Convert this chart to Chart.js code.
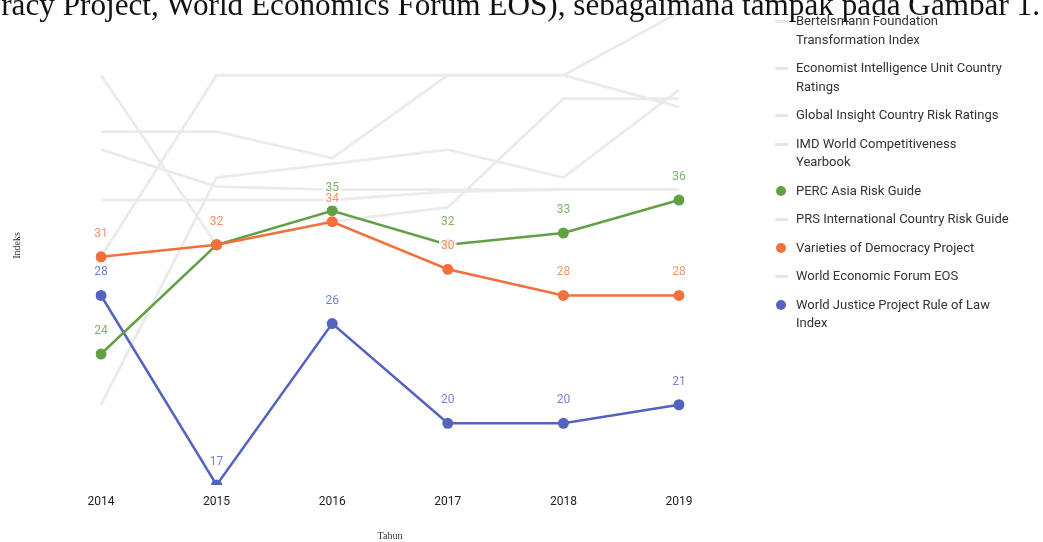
<!DOCTYPE html>
<html>
<head>
<meta charset="utf-8">
<script src="https://cdn.jsdelivr.net/npm/chart.js@4.4.0/dist/chart.umd.min.js"></script>
<style>
  html, body { margin: 0; padding: 0; background: #fff; }
  body { width: 1043px; height: 542px; position: relative; overflow: hidden; }
  #wrap { position: absolute; left: 0; top: 0; width: 760px; height: 542px; }
  #topText {
    position: absolute; right: 3px; top: -11px;
    font-family: 'Liberation Serif', serif; font-size: 31.2px; line-height: 31px;
    color: #111; white-space: nowrap;
  }
  #legend {
    position: absolute; left: 775px; top: 12px; margin: 0; padding: 0;
    list-style: none; font-family: Roboto, sans-serif; font-size: 13px; color: #333;
  }
  #legend li { position: relative; padding-left: 21px; line-height: 18.5px; margin-bottom: 10px; white-space: nowrap; }
  #legend .mk { position: absolute; }
  #legend .dash { left: 0; top: 8px; width: 13px; height: 3px; }
  #legend .dot { left: 1px; top: 4px; width: 10px; height: 10px; border-radius: 50%; }
</style>
</head>
<body>
<div id="wrap"><canvas id="chart" width="760" height="542"></canvas></div>
<div id="topText">racy Project, World Economics Forum EOS), sebagaimana tampak pada Gambar 1.</div>
<ul id="legend"></ul>
<script>
// data
const years = ['2014', '2015', '2016', '2017', '2018', '2019'];

const bertelsmann   = [50, 32, 34, 35.3, 47, 47];
const eiu           = [31, 50, 50, 50, 50, 59];
const globalInsight = [21, 38.2, 39.6, 41.1, 38.2, 48.1];
const imd           = [43.1, 43.1, 40.2, 50, 50, 46];
const perc          = [24, 32, 35, 32, 33, 36];
const prs           = [41.1, 37.3, 37, 37, 37, 37];
const vdem          = [31, 32, 34, 30, 28, 28];
const wef           = [36, 36, 36, 36.8, 37, 37];
const wjp           = [28, 17, 26, 20, 20, 21];

const seriesNames = [
    ['Bertelsmann Foundation', 'Transformation Index'],
    ['Economist Intelligence Unit Country', 'Ratings'],
    ['Global Insight Country Risk Ratings'],
    ['IMD World Competitiveness', 'Yearbook'],
    ['PERC Asia Risk Guide'],
    ['PRS International Country Risk Guide'],
    ['Varieties of Democracy Project'],
    ['World Economic Forum EOS'],
    ['World Justice Project Rule of Law', 'Index']
];
const seriesValues = [bertelsmann, eiu, globalInsight, imd, perc, prs, vdem, wef, wjp];

const GRAY = '#ebebeb';
const GREEN = 'rgb(98, 160, 67)';
const ORANGE = 'rgb(243, 112, 60)';
const BLUE = 'rgb(85, 99, 192)';

// warna per seri, null = garis abu-abu
const seriesColors = [null, null, null, null, GREEN, null, ORANGE, null, BLUE];
const labelColors  = [null, null, null, null, 'rgba(98,160,67,0.8)', null, 'rgba(243,112,60,0.75)', null, 'rgba(85,99,192,0.8)'];
const drawOrder    = [2, 2, 2, 2, 1, 2, 0, 2, 1];

const datasets = seriesValues.map((vals, i) => {
    const c = seriesColors[i];
    return {
        label: seriesNames[i].join(' '),
        data: vals,
        borderColor: c || GRAY,
        backgroundColor: c || GRAY,
        borderWidth: c ? 2.5 : 2.8,
        pointRadius: c ? 5.5 : 0,
        pointHoverRadius: c ? 5.5 : 0,
        pointBorderWidth: 0,
        tension: 0,
        fill: false,
        order: drawOrder[i],
        showValues: !!c,
        labelColor: labelColors[i]
    };
});

// label nilai di atas titik
const valueLabels = {
    id: 'valueLabels',
    afterDatasetsDraw(chart) {
        const ctx = chart.ctx;
        ctx.save();
        ctx.font = '12px Roboto';
        ctx.textAlign = 'center';
        ctx.textBaseline = 'middle';
        chart.data.datasets.forEach((ds, i) => {
            if (!ds.showValues) return;
            const meta = chart.getDatasetMeta(i);
            meta.data.forEach((pt, j) => {
                const txt = String(ds.data[j]);
                const y = pt.y - 23;
                const w = ctx.measureText(txt).width;
                ctx.fillStyle = 'rgba(255,255,255,0.85)';
                ctx.fillRect(pt.x - w / 2 - 2, y - 7, w + 4, 14);
                ctx.fillStyle = ds.labelColor;
                ctx.fillText(txt, pt.x, y);
            });
        });
        ctx.restore();
    }
};

new Chart(document.getElementById('chart'), {
    type: 'line',
    data: { labels: years, datasets: datasets },
    options: {
        responsive: false,
        animation: false,
        devicePixelRatio: 1,
        layout: { padding: { left: 11, right: 81, top: 6, bottom: 0 } },
        plugins: {
            legend: { display: false },
            tooltip: { enabled: false }
        },
        scales: {
            x: {
                grid: { display: false, drawTicks: false },
                border: { display: false },
                ticks: { color: '#222', font: { family: 'Roboto', size: 12 }, padding: 10, maxRotation: 0 },
                title: { display: true, text: 'Tahun', color: '#333', font: { family: 'Liberation Serif', size: 10 }, padding: 0 },
                afterFit(s) { s.height = 57; }
            },
            y: {
                type: 'logarithmic',
                min: 17,
                max: 60,
                bounds: 'data',
                grid: { display: false, drawTicks: false },
                border: { display: false },
                ticks: { display: false },
                title: { display: true, text: 'Indeks', color: '#333', font: { family: 'Liberation Serif', size: 10 }, padding: 0 },
                afterFit(s) { s.width = 90; }
            }
        }
    },
    plugins: [valueLabels]
});

// legenda HTML
const legendEl = document.getElementById('legend');
seriesNames.forEach((lines, i) => {
    const li = document.createElement('li');
    const mk = document.createElement('span');
    const c = seriesColors[i];
    mk.className = 'mk ' + (c ? 'dot' : 'dash');
    mk.style.background = c || '#e6e6e6';
    li.appendChild(mk);
    lines.forEach((t, k) => {
        if (k > 0) li.appendChild(document.createElement('br'));
        li.appendChild(document.createTextNode(t));
    });
    legendEl.appendChild(li);
});
</script>
</body>
</html>
